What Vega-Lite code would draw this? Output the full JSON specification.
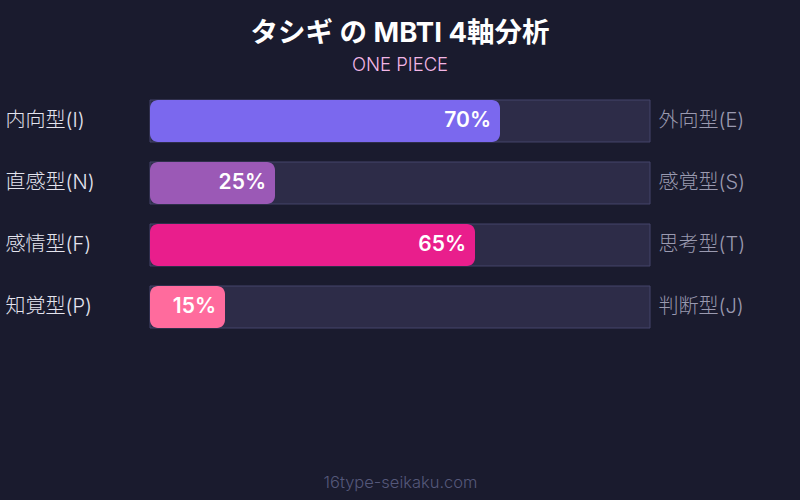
{
  "$schema": "https://vega.github.io/schema/vega-lite/v6.json",
  "description": "MBTI 4 axis analysis",
  "autosize": {"type": "none"},
  "width": 500,
  "height": 228,
  "padding": {"left": 150, "top": 100, "right": 150, "bottom": 172},
  "background": "#1a1b2e",
  "title": {
    "text": "タシギ の MBTI 4軸分析",
    "subtitle": "ONE PIECE",
    "anchor": "middle",
    "frame": "group",
    "font": "Inter, 'Noto Sans CJK JP', sans-serif",
    "fontSize": 27.5,
    "fontWeight": "bold",
    "color": "#ffffff",
    "subtitleFont": "Inter, 'Noto Sans CJK JP', sans-serif",
    "subtitleFontSize": 18.5,
    "subtitleFontWeight": 300,
    "subtitleColor": "#f3b6e6",
    "subtitlePadding": 8,
    "offset": 25.5
  },
  "data": {
    "values": [
      {"left": "内向型(I)", "right": "外向型(E)", "value": 70, "label": "70%", "total": 100, "color": "#7b68ee"},
      {"left": "直感型(N)", "right": "感覚型(S)", "value": 25, "label": "25%", "total": 100, "color": "#9b59b6"},
      {"left": "感情型(F)", "right": "思考型(T)", "value": 65, "label": "65%", "total": 100, "color": "#e91e8c"},
      {"left": "知覚型(P)", "right": "判断型(J)", "value": 15, "label": "15%", "total": 100, "color": "#ff6b9d"}
    ]
  },
  "layer": [
    {
      "mark": {"type": "bar", "fill": "#2d2c48", "stroke": "#45456a", "strokeWidth": 1},
      "encoding": {
        "y": {
          "field": "right",
          "type": "nominal",
          "sort": null,
          "scale": {"paddingInner": 0.3226, "paddingOuter": 0},
          "axis": {
            "orient": "right",
            "title": null,
            "ticks": false,
            "domain": false,
            "labelPadding": 8,
            "labelFont": "Inter, 'Noto Sans CJK JP', sans-serif",
            "labelFontSize": 20,
            "labelFontWeight": 300,
            "labelColor": "#9a9ab0"
          }
        },
        "x": {
          "field": "total",
          "type": "quantitative",
          "scale": {"domain": [0, 100], "nice": false},
          "axis": {
            "title": "16type-seikaku.com",
            "labels": false,
            "ticks": false,
            "domain": false,
            "grid": false,
            "titlePadding": 146,
            "titleFont": "Inter, 'Noto Sans CJK JP', sans-serif",
            "titleFontSize": 16.5,
            "titleFontWeight": 300,
            "titleColor": "#55587a"
          }
        }
      }
    },
    {
      "mark": {"type": "bar", "cornerRadius": 8},
      "encoding": {
        "y": {
          "field": "left",
          "type": "nominal",
          "sort": null,
          "scale": {"paddingInner": 0.3226, "paddingOuter": 0},
          "axis": {
            "orient": "left",
            "title": null,
            "ticks": false,
            "domain": false,
            "labelAlign": "left",
            "labelPadding": 145,
            "labelFont": "Inter, 'Noto Sans CJK JP', sans-serif",
            "labelFontSize": 20,
            "labelFontWeight": 300,
            "labelColor": "#e4e4ee"
          }
        },
        "x": {"field": "value", "type": "quantitative", "scale": {"domain": [0, 100], "nice": false}},
        "color": {"field": "color", "type": "nominal", "scale": null}
      }
    },
    {
      "mark": {
        "type": "text",
        "align": "right",
        "baseline": "middle",
        "dx": -9,
        "font": "Inter, 'Noto Sans CJK JP', sans-serif",
        "fontSize": 21,
        "fontWeight": 600,
        "color": "#ffffff"
      },
      "encoding": {
        "y": {
          "field": "left",
          "type": "nominal",
          "sort": null,
          "scale": {"type": "band", "paddingInner": 0.3226, "paddingOuter": 0},
          "axis": null
        },
        "x": {"field": "value", "type": "quantitative", "scale": {"domain": [0, 100], "nice": false}},
        "text": {"field": "label", "type": "nominal"}
      }
    }
  ],
  "resolve": {"scale": {"y": "independent"}},
  "config": {"view": {"stroke": null}}
}
